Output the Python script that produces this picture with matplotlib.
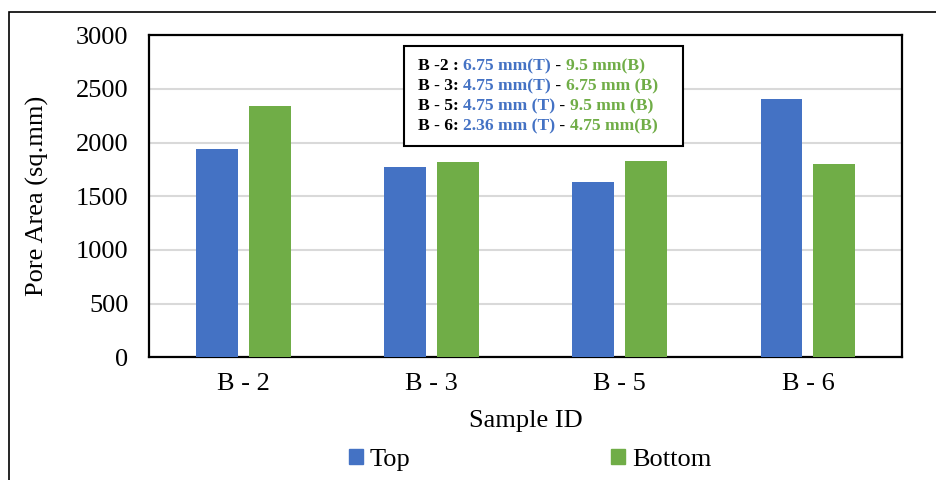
import numpy as np
import matplotlib.pyplot as plt
from matplotlib.patches import Rectangle, Patch
from matplotlib.offsetbox import TextArea, HPacker, VPacker, AnchoredOffsetbox

samples = ["B - 2", "B - 3", "B - 5", "B - 6"]
top_area = [1937, 1775, 1632, 2403]
bottom_area = [2344, 1822, 1831, 1803]

# sieve sizes for each sample: (prefix, top size, bottom size)
note_prefix = ["B -2 : ", "B - 3: ", "B - 5: ", "B - 6: "]
note_top = ["6.75 mm(T)", "4.75 mm(T)", "4.75 mm (T)", "2.36 mm (T)"]
note_bottom = ["9.5 mm(B)", "6.75 mm (B)", "9.5 mm (B)", "4.75 mm(B)"]

BLUE = "#4472C4"
GREEN = "#70AD47"
H = 480  # figure height in px, for placing the note box

plt.rcParams["font.family"] = ["Liberation Serif", "DejaVu Serif"]

fig = plt.figure(figsize=(9.37, 4.8), dpi=100)
ax = fig.add_axes([0.1593, 0.2556, 0.8034, 0.6708])

x = np.arange(len(samples))
w = 0.223
off = 0.1405
ax.bar(x - off, top_area, w, color=BLUE, zorder=3)
ax.bar(x + off, bottom_area, w, color=GREEN, zorder=3)

ax.set_xlim(-0.5, len(samples) - 0.5)
ax.set_ylim(0, 3000)
ax.set_yticks(range(0, 3001, 500))
ax.set_xticks(x)
ax.set_xticklabels(samples)
ax.tick_params(axis="both", length=0, labelsize=19)
ax.tick_params(axis="x", pad=11)
ax.tick_params(axis="y", pad=15)
ax.grid(axis="y", color="#D9D9D9", linewidth=1.5, zorder=0)
for s in ax.spines.values():
    s.set_linewidth(1.6)
    s.set_color("black")

ax.set_ylabel("Pore Area (sq.mm)", fontsize=19)
ax.yaxis.set_label_coords(-0.133, 0.5)
ax.set_xlabel("Sample ID", fontsize=19)
ax.xaxis.set_label_coords(0.5, -0.165)

# note box: frame first, then the multi-coloured lines inside it
fig.add_artist(Rectangle((404, H - 146), 279, 100, transform=None,
                         facecolor="white", edgecolor="black",
                         linewidth=1.5, zorder=5))
lines = []
for p, t, b in zip(note_prefix, note_top, note_bottom):
    parts = [(p, "black"), (t, BLUE), (" - ", "black"), (b, GREEN)]
    row = [TextArea(s, textprops=dict(color=c, fontsize=12.6, fontweight="bold"))
           for s, c in parts]
    lines.append(HPacker(children=row, align="baseline", pad=0, sep=0))
note = VPacker(children=lines, align="left", pad=0, sep=3)
box = AnchoredOffsetbox(loc="upper left", child=note, pad=0, borderpad=0,
                        frameon=False, bbox_to_anchor=(418, H - 58),
                        bbox_transform=None)
box.set_zorder(6)
fig.add_artist(box)

handles = [Patch(color=BLUE, label="Top"), Patch(color=GREEN, label="Bottom")]
fig.legend(handles=handles, loc="center", bbox_to_anchor=(0.566, 0.042),
           ncol=2, frameon=False, fontsize=19, handlelength=0.53,
           handleheight=0.53, handletextpad=0.25, columnspacing=7.6)

# chart area border
fig.add_artist(Rectangle((9.5 / 937, -0.05), 1.2, 0.05 + 1 - 12 / 480,
                         transform=fig.transFigure, fill=False,
                         edgecolor="black", linewidth=1.2))

fig.savefig("out.png", dpi=100)
